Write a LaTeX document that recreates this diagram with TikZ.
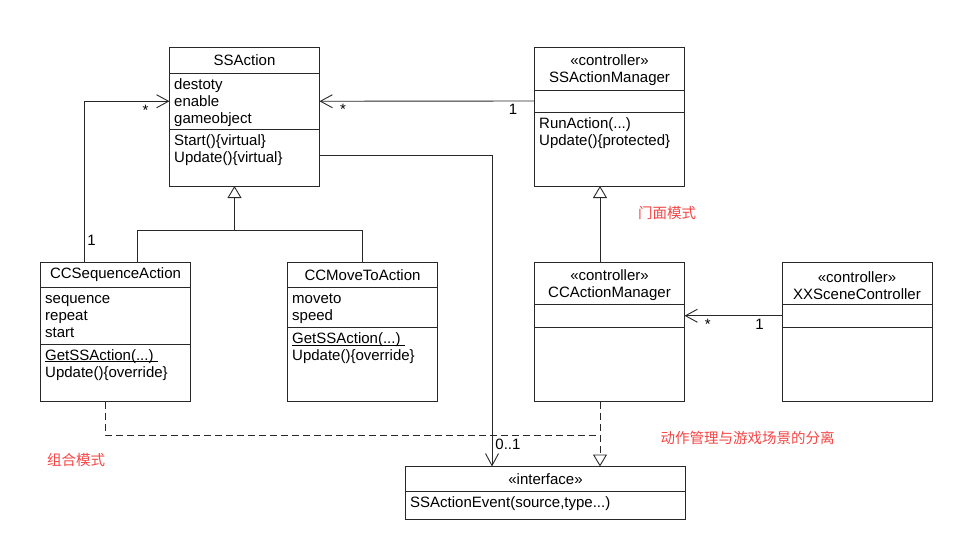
\documentclass[tikz,border=0pt]{standalone}
\usepackage{fontspec}
\setmainfont{Liberation Sans}
\newfontfamily\cjk{Noto Sans CJK SC}
\usetikzlibrary{arrows.meta,positioning,calc}
\newcommand\uml{\fontsize{15}{17}\selectfont}
\newcommand\staticop[1]{\underline{\smash{#1}}}
\definecolor{lc}{RGB}{40,40,40}
\definecolor{notered}{RGB}{245,70,70}

\begin{document}
\begin{tikzpicture}[
  x=1pt, y=-1pt,
  font=\uml,
  comp/.style={draw=lc, line width=0.9pt, minimum width=150pt, inner sep=0pt, outer sep=0pt},
  cname/.style={align=center, inner sep=0pt},
  items/.style={anchor=north west, align=left, inner sep=0pt},
  mult/.style={inner sep=3pt},
  note/.style={text=notered, font=\cjk\fontsize{14.5}{17}\selectfont},
  conn/.style={draw=lc, line width=0.9pt},
  assoc/.style={conn, -{Straight Barb[length=12pt,width=13pt]}},
  inherit/.style={conn, -{Triangle[open,length=12pt,width=14pt]}},
  realize/.style={inherit, dash pattern=on 7pt off 4pt},
  dashconn/.style={conn, dash pattern=on 7pt off 4pt}
]
\useasboundingbox (0,0) rectangle (972,541);

% SSAction
\node[comp, minimum height=26pt, anchor=north west] (ssa-t) at (169.5,47) {};
\node[comp, minimum height=56.5pt, below=0pt of ssa-t] (ssa-a) {};
\node[comp, minimum height=56.5pt, below=0pt of ssa-a] (ssa-m) {};
\node[cname] (ssa-n) at (ssa-t) {SSAction};
\node[items] (ssa-at) at ([shift={(4.5pt,-4pt)}]ssa-a.north west) {\strut destoty\\enable\\gameobject};
\node[items] (ssa-mt) at ([shift={(4.5pt,-4pt)}]ssa-m.north west) {\strut Start()\{virtual\}\\Update()\{virtual\}};

% SSActionManager
\node[comp, minimum height=43pt, anchor=north west] (mgr-t) at (534.5,47) {};
\node[comp, minimum height=22pt, below=0pt of mgr-t] (mgr-a) {};
\node[comp, minimum height=74pt, below=0pt of mgr-a] (mgr-m) {};
\node[cname] (mgr-n) at ([yshift=-2pt]mgr-t.center) {«controller»\\SSActionManager};
\node[items] (mgr-mt) at ([shift={(4.5pt,-4pt)}]mgr-m.north west) {\strut RunAction(...)\\Update()\{protected\}};

% CCSequenceAction
\node[comp, minimum height=25pt, anchor=north west] (seq-t) at (40.5,262.5) {};
\node[comp, minimum height=56.5pt, below=0pt of seq-t] (seq-a) {};
\node[comp, minimum height=57.5pt, below=0pt of seq-a] (seq-m) {};
\node[cname] (seq-n) at (seq-t) {CCSequenceAction};
\node[items] (seq-at) at ([shift={(4.5pt,-4pt)}]seq-a.north west) {\strut sequence\\repeat\\start};
\node[items] (seq-mt) at ([shift={(4.5pt,-4pt)}]seq-m.north west) {\strut\staticop{GetSSAction(...)\ }\\Update()\{override\}};

% CCMoveToAction
\node[comp, minimum height=25pt, anchor=north west] (mov-t) at (287.5,262.5) {};
\node[comp, minimum height=40pt, below=0pt of mov-t] (mov-a) {};
\node[comp, minimum height=74pt, below=0pt of mov-a] (mov-m) {};
\node[cname] (mov-n) at (mov-t) {CCMoveToAction};
\node[items] (mov-at) at ([shift={(4.5pt,-4pt)}]mov-a.north west) {\strut moveto\\speed};
\node[items] (mov-mt) at ([shift={(4.5pt,-4pt)}]mov-m.north west) {\strut\staticop{GetSSAction(...)\ }\\Update()\{override\}};

% CCActionManager
\node[comp, minimum height=41.5pt, anchor=north west] (cam-t) at (534.5,262.5) {};
\node[comp, minimum height=23.5pt, below=0pt of cam-t] (cam-a) {};
\node[comp, minimum height=74pt, below=0pt of cam-a] (cam-m) {};
\node[cname] (cam-n) at ([yshift=-2pt]cam-t.center) {«controller»\\CCActionManager};

% XXSceneController
\node[comp, minimum height=41.5pt, anchor=north west] (xxs-t) at (782,262.5) {};
\node[comp, minimum height=23.5pt, below=0pt of xxs-t] (xxs-a) {};
\node[comp, minimum height=74pt, below=0pt of xxs-a] (xxs-m) {};
\node[cname] (xxs-n) at ([yshift=-2pt]xxs-t.center) {«controller»\\XXSceneController};

% SSActionEvent
\node[comp, minimum width=280pt, minimum height=24.5pt, anchor=north west] (evt-t) at (405.5,466.5) {};
\node[comp, minimum width=280pt, minimum height=28.5pt, below=0pt of evt-t] (evt-m) {};
\node[cname] (evt-n) at (evt-t) {«interface»};
\node[items] (evt-mt) at ([shift={(4.5pt,-4pt)}]evt-m.north west) {\strut SSActionEvent(source,type...)};

% associations
\draw[assoc] (mgr-a.west) -- node[mult, below, pos=.1] {1} node[mult, below, pos=.89] {*} (ssa-a.east);
\draw[assoc] ([xshift=43.5pt]seq-t.north west) |- node[mult, right, pos=.07] {1} node[mult, below, pos=.86] {*} (ssa-a.west);
\draw[assoc] (xxs-a.west) -- node[mult, below, pos=.23] {1} node[mult, below, pos=.76] {*} (cam-a.east);
\draw[assoc] ([yshift=2pt]ssa-m.east) -| node[mult, right, pos=.965] {0..1} ([xshift=-53.5pt]evt-t.north);

% generalization
\coordinate (tree) at ($(ssa-m.south)+(-10,44.5)$);
\draw[inherit] (tree) -- (tree |- ssa-m.south);
\draw[conn] ([xshift=97pt]seq-t.north west) |- (tree) -| (mov-t.north);
\draw[inherit] ([xshift=-9.5pt]cam-t.north) -- ([xshift=-9.5pt]mgr-m.south);

% realization
\draw[realize] ([xshift=-9.5pt]cam-m.south) coordinate (r) -- (r |- evt-t.north);
\coordinate (join) at ($(r)+(0,33.5)$);
\draw[dashconn] ([xshift=64.5pt]seq-m.south west) |- (join);

% notes
\node[note] (facade) at (667,213) {门面模式};
\node[note] (split) at (747.5,438) {动作管理与游戏场景的分离};
\node[note] (composite) at (76,460) {组合模式};
\end{tikzpicture}
\end{document}
